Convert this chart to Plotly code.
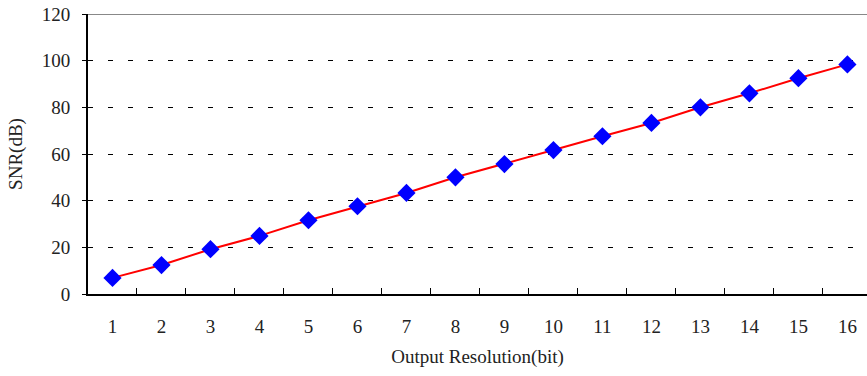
import plotly.graph_objects as go

bits = [str(i) for i in range(1, 17)]
snr = [6.9, 12.4, 19.2, 24.9, 31.6, 37.6, 43.3, 50.0, 55.7, 61.7, 67.6, 73.3, 80.0, 86.0, 92.5, 98.4]
y_ticks = [0, 20, 40, 60, 80, 100, 120]

font = "Liberation Serif, Times New Roman, serif"

fig = go.Figure()
fig.add_trace(go.Scatter(
    x=bits, y=snr, mode="lines+markers",
    line=dict(color="#ff0000", width=2),
    marker=dict(symbol="diamond", size=14, color="#0000ff"),
    cliponaxis=False,
))

fig.update_layout(
    width=867, height=376,
    margin=dict(l=88, r=0, t=14, b=82),
    paper_bgcolor="white", plot_bgcolor="white",
    showlegend=False,
    font=dict(family=font, size=19, color="#222"),
    xaxis=dict(
        type="category", range=[-0.5, 15.4],
        tickson="boundaries", ticks="inside", ticklen=6, tickcolor="black",
        ticklabelstandoff=14,
        showline=True, linecolor="black", linewidth=2,
        showgrid=False, zeroline=False,
        title=dict(text="Output Resolution(bit)", standoff=14, font=dict(size=19)),
    ),
    yaxis=dict(
        range=[0, 120], tickvals=y_ticks,
        ticks="outside", ticklen=4, tickcolor="black",
        ticklabelstandoff=8,
        showline=True, linecolor="black", linewidth=2,
        showgrid=True, gridcolor="black", griddash="5px,15px", gridwidth=1,
        zeroline=False,
        title=dict(text="SNR(dB)", standoff=14, font=dict(size=19)),
    ),
    shapes=[dict(type="line", xref="paper", yref="y", x0=0, x1=1, y0=120, y1=120,
                 line=dict(color="#888", width=2))],
)

fig.write_html("out.html")
